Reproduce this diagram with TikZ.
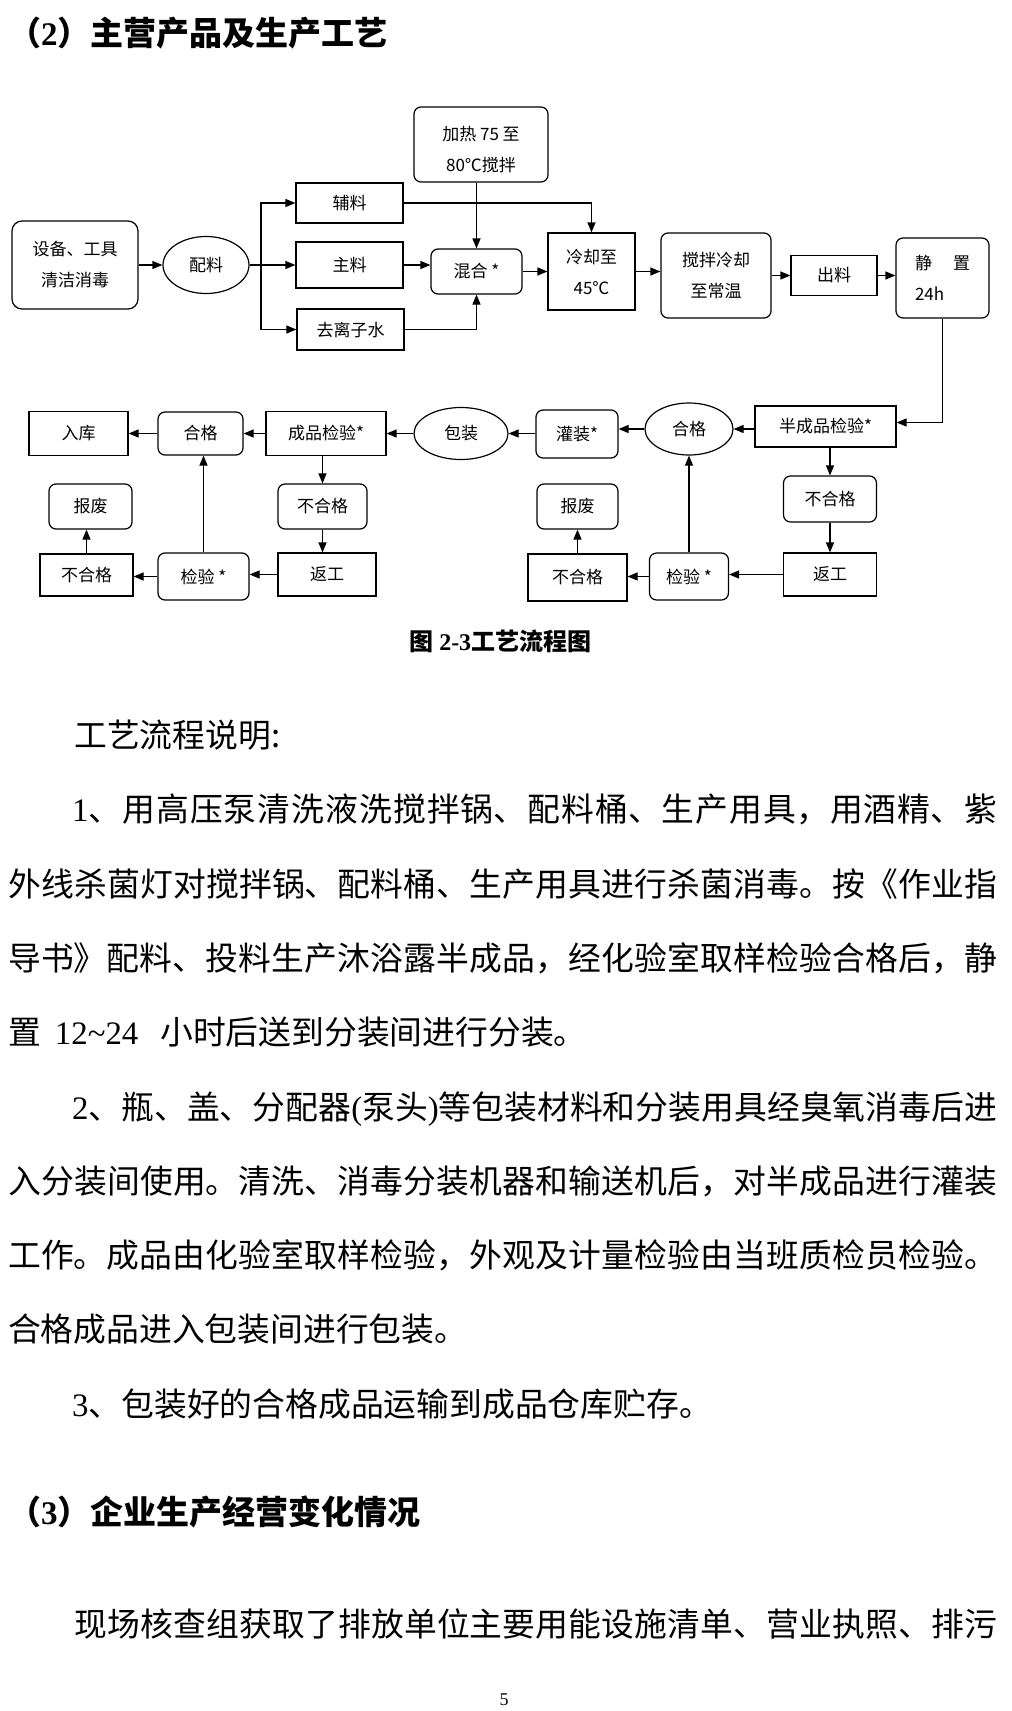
\documentclass[tikz,border=0pt]{standalone}
\usepackage{fontspec}
\setmainfont{Noto Sans CJK SC}
\newfontfamily\tnr{Liberation Serif}
\usetikzlibrary{shapes.geometric, arrows.meta}
\XeTeXlinebreaklocale "zh"
\XeTeXlinebreakskip=0pt plus 4pt

\newcommand\bodyfont{\fontsize{32.8}{74}\selectfont}
\newcommand\headfont{\fontsize{33}{40}\selectfont\bfseries}
\newcommand\diagfont{\fontsize{17}{31}\selectfont}

\begin{document}
\begin{tikzpicture}[x=1pt, y=-1pt,
    sbox/.style={rectangle, draw, line width=1.2pt, inner sep=0pt,
                 font=\diagfont, align=center},
    rbox/.style={sbox, rounded corners=7pt},
    obox/.style={ellipse, draw, line width=1.2pt, inner sep=0pt, font=\diagfont},
    wh/.style 2 args={minimum width=#1pt, minimum height=#2pt},
    arr/.style={-{Triangle[length=10pt,width=8pt]}, line width=1.2pt},
    body/.style={anchor=base west, inner sep=0pt, font=\bodyfont},
    just/.style={body, text width=#1pt, align=justify}
]
\useasboundingbox (0,0) rectangle (1012,1711);

% heading
\node[anchor=base west, inner sep=0pt, font=\headfont] (h2) at (8,45.5)
  {（{\tnr\bfseries 2}）主营产品及生产工艺};

% first row
\node[rbox, wh={126}{88}, rounded corners=10pt] (clean) at (75,265) {设备、工具\\清洁消毒};
\node[obox, wh={86}{57}] (peiliao) at (206,265) {配料};
\coordinate (split) at (261,265);
\node[sbox, wh={107}{40}] (fuliao) at (349.5,203) {辅料};
\node[sbox, wh={107}{46}] (zhuliao) at (349.5,265) {主料};
\node[sbox, wh={107}{41}] (water) at (350.5,329.5) {去离子水};
\node[rbox, wh={134}{75},
      label={[font=\diagfont, align=center, yshift=-5pt]center:加热 75 至\\80℃搅拌}] (heat) at (481,144.5) {};
\node[rbox, wh={91}{45}] (mix) at (476.5,271.5) {混合 *};
\node[sbox, wh={87}{77}] (cool) at (591.5,271.5) {冷却至\\45℃};
\node[rbox, wh={110}{85}] (stircool) at (716,275.5) {搅拌冷却\\至常温};
\node[sbox, wh={86}{40}] (out) at (834,275.5) {出料};
\node[rbox, wh={93}{80}, align=left] (rest) at (942.5,278) {静\hspace{21pt}置\\24h};

% second row
\node[sbox, wh={141}{41}] (semi) at (825.5,426.5) {半成品检验*};
\node[obox, wh={88}{52}] (ok1) at (689,429) {合格};
\node[rbox, wh={82}{48}] (fill) at (577,434) {灌装*};
\node[obox, wh={94}{52}] (pack) at (461,433.5) {包装};
\node[sbox, wh={120}{44}] (final) at (326,433.5) {成品检验*};
\node[rbox, wh={85}{43}] (ok2) at (200.5,433.5) {合格};
\node[sbox, wh={99}{44}] (store) at (78.5,433.5) {入库};

% rework loops
\node[rbox, wh={93}{46}] (ng1) at (830,499) {不合格};
\node[sbox, wh={93}{43}] (rework1) at (830,574.5) {返工};
\node[rbox, wh={79}{47}] (check1) at (689,576.5) {检验 *};
\node[sbox, wh={99}{47}] (ng1b) at (577.5,577.5) {不合格};
\node[rbox, wh={81}{45}] (scrap1) at (577.5,506.5) {报废};
\node[rbox, wh={89}{45}] (ng2) at (322.5,506.5) {不合格};
\node[sbox, wh={98}{43}] (rework2) at (327,574.5) {返工};
\node[rbox, wh={91}{47}] (check2) at (203.5,576.5) {检验 *};
\node[sbox, wh={93}{42}] (ng2b) at (86.5,575) {不合格};
\node[rbox, wh={83}{45}] (scrap2) at (90.5,506.5) {报废};

% connectors
\draw[arr] (clean) -- (peiliao);
\draw[arr] (peiliao) -- (zhuliao);
\draw[arr] (split) |- (fuliao.west);
\draw[arr] (split) |- (water.west);
\draw[arr] (fuliao.east) -| (cool.north);
\draw[arr] (heat.south -| mix.north) -- (mix.north);
\draw[arr] (zhuliao.east) -- (zhuliao.east -| mix.west);
\draw[arr] (water.east) -| (mix.south);
\draw[arr] (mix) -- (cool);
\draw[arr] (cool.east) -- (cool.east -| stircool.west);
\draw[arr] (stircool.east |- out) -- (out.west);
\draw[arr] (out.east) -- (out.east -| rest.west);
\draw[arr] (rest.south) |- ([yshift=4pt]semi.east);
\draw[arr] (semi.west |- ok1) -- (ok1.east);
\draw[arr] (ok1.west) -- (ok1.west -| fill.east);
\draw[arr] (fill.west |- pack) -- (pack.east);
\draw[arr] (pack) -- (final);
\draw[arr] (final) -- (ok2);
\draw[arr] (ok2) -- (store);
\draw[arr] (ng1.north |- semi.south) -- (ng1.north);
\draw[arr] (ng1) -- (rework1);
\draw[arr] (rework1.west) -- (rework1.west -| check1.east);
\draw[arr] (check1) -- (ok1);
\draw[arr] (check1.west) -- (check1.west -| ng1b.east);
\draw[arr] (ng1b) -- (scrap1);
\draw[arr] (ng2.north |- final.south) -- (ng2.north);
\draw[arr] (ng2.south) -- (ng2.south |- rework2.north);
\draw[arr] (rework2.west) -- (rework2.west -| check2.east);
\draw[arr] (check2.north) -- (check2.north |- ok2.south);
\draw[arr] (check2.west) -- (check2.west -| ng2b.east);
\draw[arr] (ng2b.north) -- (ng2b.north |- scrap2.south);

\node[anchor=base, inner sep=0pt, font=\fontsize{24}{24}\selectfont\bfseries] (caption) at (500.5,650)
  {图 {\tnr\bfseries 2-3}工艺流程图};

% text
\node[body] (intro) at (74,747.4) {工艺流程说明:};
\node[just=925] (p1a) at (72,821.7) {\noindent\parfillskip=0pt {\tnr 1}、用高压泵清洗液洗搅拌锅、配料桶、生产用具，用酒精、紫\par};
\node[just=989] (p1b) at (8,896) {\noindent\parfillskip=0pt 外线杀菌灯对搅拌锅、配料桶、生产用具进行杀菌消毒。按《作业指\par};
\node[just=989] (p1c) at (8,970.3) {\noindent\parfillskip=0pt 导书》配料、投料生产沐浴露半成品，经化验室取样检验合格后，静\par};
\node[body] (p1d) at (8,1044.6) {置\hspace{14pt}{\tnr 12\textasciitilde 24}\hspace{22pt}小时后送到分装间进行分装。};
\node[just=925] (p2a) at (72,1119) {\noindent\parfillskip=0pt {\tnr 2}、瓶、盖、分配器{\tnr (}泵头{\tnr )}等包装材料和分装用具经臭氧消毒后进\par};
\node[just=989] (p2b) at (8,1193.2) {\noindent\parfillskip=0pt 入分装间使用。清洗、消毒分装机器和输送机后，对半成品进行灌装\par};
\node[just=989] (p2c) at (8,1267.5) {\noindent\parfillskip=0pt 工作。成品由化验室取样检验，外观及计量检验由当班质检员检验。\par};
\node[body] (p2d) at (8,1341.8) {合格成品进入包装间进行包装。};
\node[body] (p3) at (72,1416.1) {{\tnr 3}、包装好的合格成品运输到成品仓库贮存。};

\node[anchor=base west, inner sep=0pt, font=\headfont] (h3) at (8,1524.5)
  {（{\tnr\bfseries 3}）企业生产经营变化情况};
\node[just=923] (p4) at (74,1636.4) {\noindent\parfillskip=0pt 现场核查组获取了排放单位主要用能设施清单、营业执照、排污\par};

\node[anchor=base, inner sep=0pt, font=\tnr\fontsize{18}{18}\selectfont] (pageno) at (504,1705) {5};
\end{tikzpicture}
\end{document}
